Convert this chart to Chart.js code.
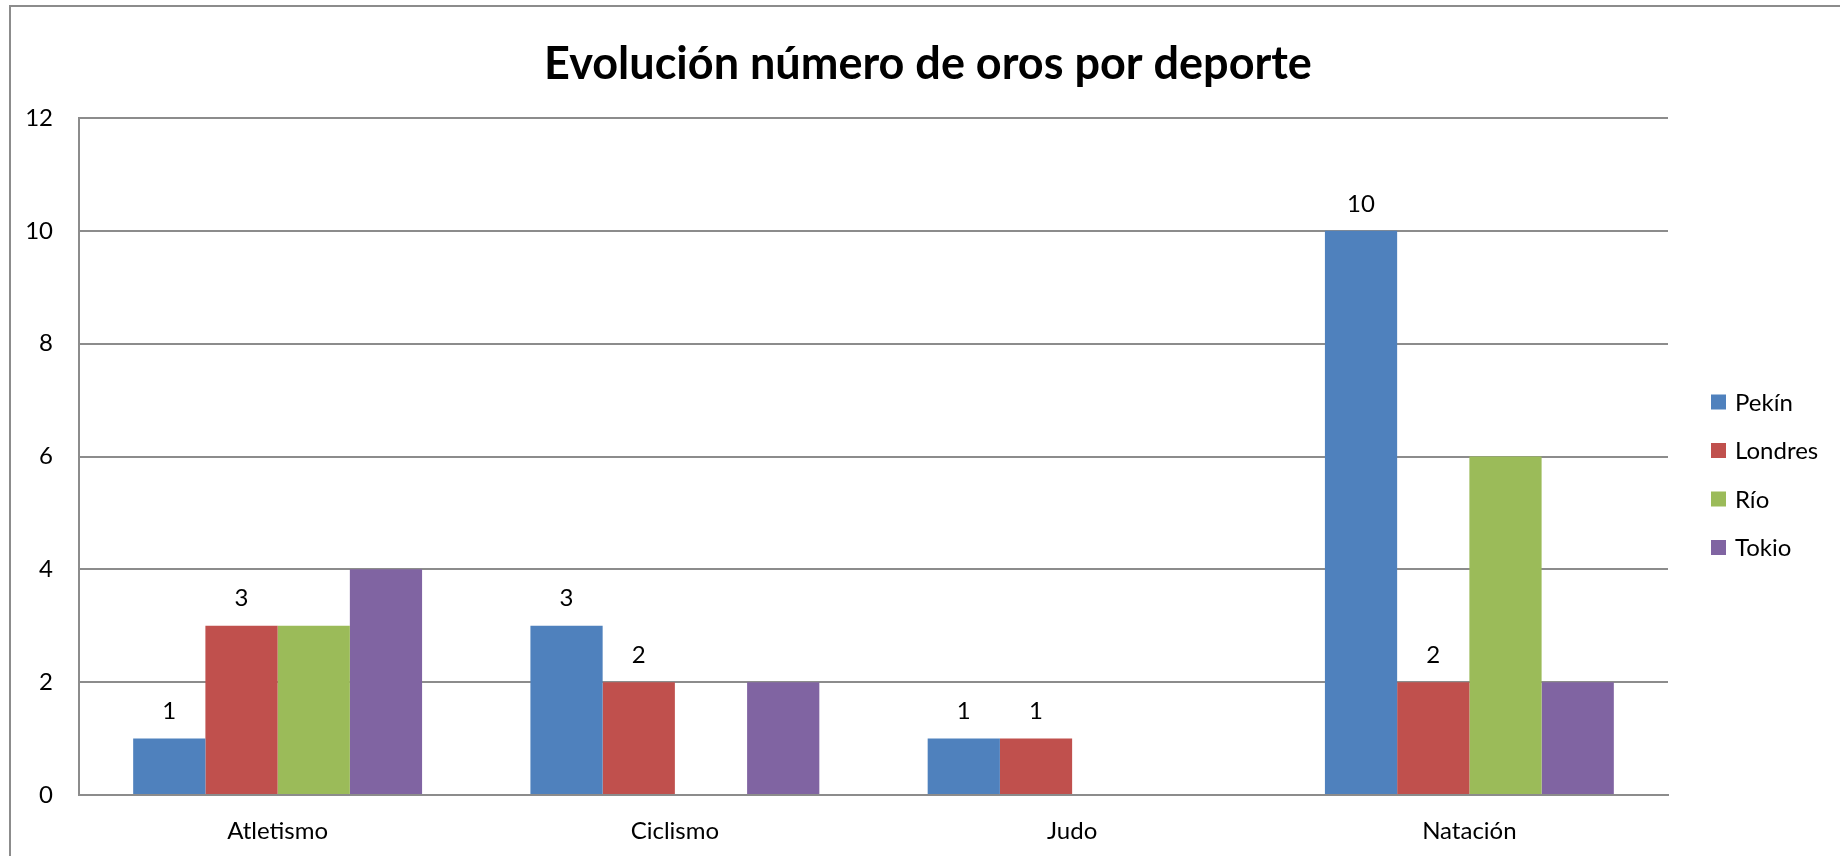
<!DOCTYPE html>
<html lang="es">
<head>
<meta charset="utf-8">
<title>Evolución número de oros por deporte</title>
<script src="https://cdn.jsdelivr.net/npm/chart.js@4.4.1/dist/chart.umd.min.js"></script>
<style>
    html, body {
        margin: 0;
        padding: 0;
        background: #ffffff;
    }
    #wrap {
        position: relative;
        width: 1840px;
        height: 856px;
    }
</style>
</head>
<body>
<div id="wrap">
    <canvas id="barChart"></canvas>
</div>
<script>
const chartTitle = 'Evolución número de oros por deporte'
const sports = ['Atletismo', 'Ciclismo', 'Judo', 'Natación']
const cities = ['Pekín', 'Londres', 'Río', 'Tokio']
const pekin = [1, 3, 1, 10]
const londres = [3, 2, 1, 2]
const rio = [3, 0, 0, 6]
const tokio = [4, 2, 0, 2]
const cityColors = ['#4F81BD', '#C0504D', '#9BBB59', '#8064A2']
const labelledSeries = [0, 1]
const yTicks = [0, 2, 4, 6, 8, 10, 12]

const FONT = 'Lato, "Open Sans", sans-serif'
const GRID = '#8c8c8c'

// frame + title, drawn behind everything
const framePlugin = {
    id: 'frame',
    beforeDraw(chart) {
        const ctx = chart.ctx
        ctx.save()
        ctx.fillStyle = '#ffffff'
        ctx.fillRect(0, 0, chart.width, chart.height)
        ctx.strokeStyle = GRID
        ctx.lineWidth = 2
        ctx.beginPath()
        ctx.moveTo(10, chart.height + 2)
        ctx.lineTo(10, 6)
        ctx.lineTo(chart.width + 2, 6)
        ctx.stroke()
        ctx.fillStyle = '#000000'
        ctx.font = 'bold 45px ' + FONT
        ctx.textAlign = 'center'
        ctx.textBaseline = 'alphabetic'
        ctx.fillText(chartTitle, 928, 79)
        ctx.restore()
    },
}

// value labels above Pekín and Londres bars only
const valueLabels = {
    id: 'valueLabels',
    afterDatasetsDraw(chart) {
        const ctx = chart.ctx
        ctx.save()
        ctx.fillStyle = '#000000'
        ctx.font = '24px ' + FONT
        ctx.textAlign = 'center'
        ctx.textBaseline = 'middle'
        labelledSeries.forEach((di) => {
            const meta = chart.getDatasetMeta(di)
            meta.data.forEach((bar, i) => {
                const v = chart.data.datasets[di].data[i]
                if (!v) return
                ctx.fillText(String(v), bar.x, bar.y - 27)
            })
        })
        ctx.restore()
    },
}

// legend at the right, as in the spreadsheet
const sideLegend = {
    id: 'sideLegend',
    afterDraw(chart) {
        const ctx = chart.ctx
        ctx.save()
        ctx.font = '24px ' + FONT
        ctx.textBaseline = 'middle'
        ctx.textAlign = 'left'
        chart.data.datasets.forEach((ds, i) => {
            const cy = 402 + i * 48.5
            ctx.fillStyle = ds.backgroundColor
            ctx.fillRect(1711, cy - 7.5, 15, 15)
            ctx.fillStyle = '#000000'
            ctx.fillText(ds.label, 1735, cy + 1)
        })
        ctx.restore()
    },
}

const seriesValues = [pekin, londres, rio, tokio]

const data = {
    labels: sports,
    datasets: cities.map((name, i) => ({
        label: name,
        data: seriesValues[i],
        backgroundColor: cityColors[i],
        borderWidth: 0,
        categoryPercentage: 4 / 5.5,
        barPercentage: 1,
    })),
}

const config = {
    type: 'bar',
    data: data,
    options: {
        responsive: true,
        maintainAspectRatio: false,
        animation: false,
        layout: {
            padding: { top: 118, left: 19, right: 172, bottom: 11 },
        },
        scales: {
            x: {
                grid: { display: false, drawTicks: false },
                border: { display: true, color: GRID, width: 2 },
                ticks: {
                    color: '#000000',
                    font: { family: FONT, size: 24 },
                    padding: 22,
                    maxRotation: 0,
                },
                afterFit(scale) {
                    scale.height = 50
                },
            },
            y: {
                min: 0,
                max: 12,
                afterBuildTicks(scale) {
                    scale.ticks = yTicks.map((v) => ({ value: v }))
                },
                grid: { color: GRID, lineWidth: 2, drawTicks: false },
                border: { display: true, color: GRID, width: 2 },
                ticks: {
                    color: '#000000',
                    font: { family: FONT, size: 24 },
                    padding: 26,
                },
                afterFit(scale) {
                    scale.width = 60
                },
            },
        },
        plugins: {
            legend: { display: false },
            title: { display: false },
            tooltip: { enabled: false },
        },
    },
    plugins: [framePlugin, valueLabels, sideLegend],
}

const ctx = document.getElementById('barChart').getContext('2d')
const barChart = new Chart(ctx, config)
</script>
</body>
</html>
